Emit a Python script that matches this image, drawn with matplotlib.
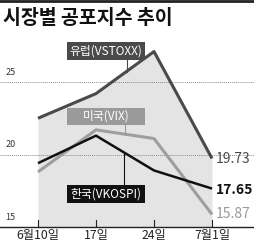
import matplotlib
matplotlib.use("Agg")
import matplotlib.pyplot as plt
from matplotlib.lines import Line2D
from matplotlib.patches import Rectangle

plt.rcParams['font.family'] = ['Noto Sans CJK KR', 'DejaVu Sans']

dates = ["6월10일", "17일", "24일", "7월1일"]
europe = [22.5, 24.2, 27.1, 19.73]
us = [18.8, 21.7, 21.1, 15.87]
korea = [19.4, 21.3, 18.9, 17.65]
yticks = [15, 20, 25]

W, H = 255, 245
fig = plt.figure(figsize=(W / 100, H / 100), dpi=100)
ax_bottom_px = 227
ymin, ymax = 15, 28
ppu = 14.5
ax_h = (ymax - ymin) * ppu
ax = fig.add_axes([0, (H - ax_bottom_px) / H, 1, ax_h / H])
x = list(range(len(dates)))
step = 58
x0 = 38
ax.set_xlim(-x0 / step, (W - x0) / step)
ax.set_ylim(ymin, ymax)
for s in ax.spines.values():
    s.set_visible(False)
ax.set_xticks([])
ax.set_yticks([])


def px2y(py):
    return ymin + (ax_bottom_px - py) / ppu


def px2x(px):
    return (px - x0) / step


# shaded area under Europe
ax.fill_between(x, europe, ymin, color="#e4e4e4", zorder=1, linewidth=0)

# gridlines
for yv in yticks[1:]:
    ax.axhline(yv, color="#8a8a8a", lw=0.7, ls=(0, (1, 1)), zorder=2)
for yv in yticks:
    ax.text(0.02, yv + 0.35, str(yv), transform=ax.get_yaxis_transform(),
            fontsize=6.5, color="#333333", va="bottom", ha="left")

# bottom axis
ax.axhline(ymin, color="#222222", lw=1.0, zorder=5, clip_on=False)
for xi, lab in zip(x, dates):
    ax.plot([xi, xi], [ymin, ymin + 0.5], color="#222222", lw=0.8, zorder=5)
    ax.text(xi, px2y(229), lab, ha="center", va="top", fontsize=8.8,
            color="#222222", clip_on=False)

ax.plot(x, us, color="#9e9e9e", lw=2.2, zorder=3, solid_capstyle="butt")
ax.plot(x, korea, color="#111111", lw=1.8, zorder=4, solid_capstyle="butt")
ax.plot(x, europe, color="#4a4a4a", lw=2.2, zorder=4, solid_capstyle="butt")


def box_label(top, bottom, text, fc, lx, ly0, ly1):
    ax.plot([px2x(lx), px2x(lx)], [px2y(ly0), px2y(ly1)], color=fc, lw=0.8, zorder=5)
    left, right = 67, 145
    ax.add_patch(Rectangle((px2x(left), px2y(bottom)), (right - left) / step,
                           (bottom - top) / ppu, fc=fc, ec="none", zorder=6))
    ax.text(px2x((left + right) / 2), px2y((top + bottom) / 2), text, ha="center",
            va="center", fontsize=8.5, color="white", zorder=7)


box_label(42, 60, "유럽(VSTOXX)", "#4a4a4a", 127, 60, 72)
box_label(108, 125, "미국(VIX)", "#9a9a9a", 125, 125, 134)
box_label(185, 203, "한국(VKOSPI)", "#111111", 124, 185, 152)

# right end values
ax.text(px2x(216), px2y(159), "19.73", fontsize=10, color="#4a4a4a", va="center", ha="left")
ax.text(px2x(216), px2y(190), "17.65", fontsize=10, color="#111111", va="center", ha="left",
        fontweight="bold")
ax.text(px2x(216), px2y(214), "15.87", fontsize=10, color="#9a9a9a", va="center", ha="left")

# title and top rule
fig.add_artist(Line2D([0, 1], [1 - 1 / H, 1 - 1 / H], color="#222222", lw=2))
fig.text(3 / W, 1 - 18 / H, "시장별 공포지수 추이", fontsize=14, fontweight="bold",
         color="#111111", va="center", ha="left")

fig.savefig("out.png", dpi=100)
